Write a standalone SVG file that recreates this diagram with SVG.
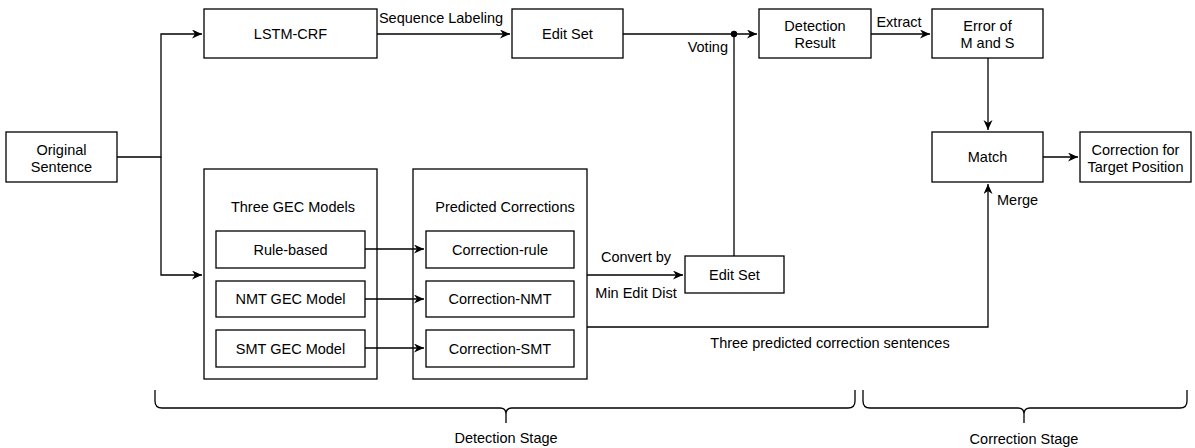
<svg xmlns="http://www.w3.org/2000/svg" width="1195" height="448" viewBox="0 0 1195 448">
<style>
.box{fill:#fff;stroke:#000;stroke-width:1.3}
.ln{fill:none;stroke:#000;stroke-width:1.3}
text{font-family:"Liberation Sans",Arial,sans-serif;font-size:14.5px;fill:#000}
.c{text-anchor:middle}
</style>
<defs>
<marker id="arr" markerUnits="userSpaceOnUse" markerWidth="12" markerHeight="10" refX="10" refY="4.5" orient="auto">
<path d="M0,0 L10,4.5 L0,9 L3,4.5 Z" fill="#000"/>
</marker>
</defs>
<rect width="1195" height="448" fill="#fff"/>
<g id="original">
<rect class="box" x="6" y="132" width="111" height="50"/>
<text x="61.5" y="154.5" class="c">Original</text>
<text x="61.5" y="171.5" class="c">Sentence</text>
</g>
<g id="lstm">
<rect class="box" x="204" y="9" width="173" height="49"/>
<text x="290.5" y="39" class="c">LSTM-CRF</text>
</g>
<g id="editset-top">
<rect class="box" x="512" y="9" width="111" height="49"/>
<text x="567.5" y="39" class="c">Edit Set</text>
</g>
<g id="detection-result">
<rect class="box" x="759" y="9" width="112" height="49"/>
<text x="815" y="31" class="c">Detection</text>
<text x="815" y="48" class="c">Result</text>
</g>
<g id="error-ms">
<rect class="box" x="932" y="9" width="111" height="49"/>
<text x="987.5" y="31" class="c">Error of</text>
<text x="987.5" y="48" class="c">M and S</text>
</g>
<g id="match">
<rect class="box" x="932" y="132" width="111" height="50"/>
<text x="987.5" y="162" class="c">Match</text>
</g>
<g id="correction-target">
<rect class="box" x="1080" y="132" width="111" height="50"/>
<text x="1135.5" y="154.5" class="c">Correction for</text>
<text x="1135.5" y="171.5" class="c">Target Position</text>
</g>
<g id="three-gec">
<rect class="box" x="204" y="169" width="173" height="210"/>
<text x="293" y="212" class="c">Three GEC Models</text>
</g>
<g id="rule-based">
<rect class="box" x="216" y="231" width="149" height="37"/>
<text x="290.5" y="254.5" class="c">Rule-based</text>
</g>
<g id="nmt-gec">
<rect class="box" x="216" y="281" width="149" height="36"/>
<text x="290.5" y="304" class="c">NMT GEC Model</text>
</g>
<g id="smt-gec">
<rect class="box" x="216" y="330" width="149" height="37"/>
<text x="290.5" y="353.5" class="c">SMT GEC Model</text>
</g>
<g id="predicted">
<rect class="box" x="413" y="169" width="174" height="210"/>
<text x="505" y="212" class="c">Predicted Corrections</text>
</g>
<g id="corr-rule">
<rect class="box" x="426" y="231" width="148" height="37"/>
<text x="500" y="254.5" class="c">Correction-rule</text>
</g>
<g id="corr-nmt">
<rect class="box" x="426" y="281" width="148" height="36"/>
<text x="500" y="304" class="c">Correction-NMT</text>
</g>
<g id="corr-smt">
<rect class="box" x="426" y="330" width="148" height="37"/>
<text x="500" y="353.5" class="c">Correction-SMT</text>
</g>
<g id="editset-bottom">
<rect class="box" x="685" y="256" width="99" height="37"/>
<text x="734.5" y="280" class="c">Edit Set</text>
</g>
<g id="detection-stage">
<path class="ln" d="M155,390 V401 Q155,408 162,408 H500 Q506,408 506,414 V423 M506,414 Q506,408 512,408 H848 Q855,408 855,401 V390"/>
<text x="506" y="443" class="c">Detection Stage</text>
</g>
<g id="correction-stage">
<path class="ln" d="M863,390 V401 Q863,408 870,408 H1018 Q1024,408 1024,414 V423 M1024,414 Q1024,408 1030,408 H1180 Q1187,408 1187,401 V390"/>
<text x="1024" y="444" class="c">Correction Stage</text>
</g>
<g id="connectors">
<path class="ln" d="M117,157 H161 V34 H202" marker-end="url(#arr)"/>
<path class="ln" d="M161,157 V275 H202" marker-end="url(#arr)"/>
<path class="ln" d="M377,34 H510" marker-end="url(#arr)"/>
<path class="ln" d="M623,34 H757" marker-end="url(#arr)"/>
<path class="ln" d="M734,34 V256"/>
<circle cx="734" cy="34" r="3.2" fill="#000"/>
<path class="ln" d="M871,34 H930" marker-end="url(#arr)"/>
<path class="ln" d="M988,58 V130" marker-end="url(#arr)"/>
<path class="ln" d="M1043,157 H1078" marker-end="url(#arr)"/>
<path class="ln" d="M365,249 H424" marker-end="url(#arr)"/>
<path class="ln" d="M365,299 H424" marker-end="url(#arr)"/>
<path class="ln" d="M365,348 H424" marker-end="url(#arr)"/>
<path class="ln" d="M587,275 H683" marker-end="url(#arr)"/>
<path class="ln" d="M587,327 H988 V184" marker-end="url(#arr)"/>
<text x="441" y="23" class="c">Sequence Labeling</text>
<text x="728" y="52" text-anchor="end">Voting</text>
<text x="899" y="27" class="c">Extract</text>
<text x="997" y="205">Merge</text>
<text x="636" y="262" class="c">Convert by</text>
<text x="636" y="298" class="c">Min Edit Dist</text>
<text x="830" y="348" class="c">Three predicted correction sentences</text>
</g>
</svg>
